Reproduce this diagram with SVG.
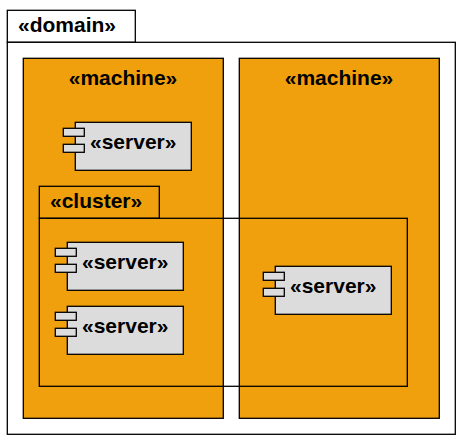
<svg xmlns="http://www.w3.org/2000/svg" width="462" height="446" viewBox="0 0 462 446">
<style>
.b{stroke:#000;stroke-width:1.3;fill:none}
.w{fill:#fff}
.m{fill:#f0a00c}
.s{fill:#dcdcdc}
text{font-family:"Liberation Sans",Arial,sans-serif;font-weight:bold;font-size:21px;fill:#000}
.mid{text-anchor:middle}
</style>
<rect width="462" height="446" fill="#fff"/>
<g id="domain">
<rect class="b w" x="7.3" y="10.3" width="128" height="32"/>
<rect class="b w" x="7.3" y="42.3" width="448" height="392"/>
<text x="18" y="32">«domain»</text>
</g>
<g id="machine1">
<rect class="b m" x="23.3" y="58.3" width="200" height="360"/>
<text class="mid" x="123" y="85">«machine»</text>
</g>
<g id="machine2">
<rect class="b m" x="239.3" y="58.3" width="200" height="360"/>
<text class="mid" x="339" y="85">«machine»</text>
</g>
<g id="cluster">
<rect class="b" x="39.3" y="186.3" width="120" height="32"/>
<rect class="b" x="39.3" y="218.3" width="368" height="168"/>
<text x="50" y="208">«cluster»</text>
</g>
<g id="server1">
<rect class="b s" x="75.3" y="122.3" width="116" height="48"/>
<rect class="b s" x="63.3" y="128.3" width="21" height="8"/>
<rect class="b s" x="63.3" y="144.3" width="21" height="8"/>
<text x="90" y="149">«server»</text>
</g>
<g id="server2">
<rect class="b s" x="67.3" y="242.3" width="116" height="48"/>
<rect class="b s" x="55.3" y="248.3" width="21" height="8"/>
<rect class="b s" x="55.3" y="264.3" width="21" height="8"/>
<text x="82" y="269">«server»</text>
</g>
<g id="server3">
<rect class="b s" x="67.3" y="306.3" width="116" height="48"/>
<rect class="b s" x="55.3" y="312.3" width="21" height="8"/>
<rect class="b s" x="55.3" y="328.3" width="21" height="8"/>
<text x="82" y="333">«server»</text>
</g>
<g id="server4">
<rect class="b s" x="275.3" y="266.3" width="116" height="48"/>
<rect class="b s" x="263.3" y="272.3" width="21" height="8"/>
<rect class="b s" x="263.3" y="288.3" width="21" height="8"/>
<text x="290" y="293">«server»</text>
</g>
<g id="connectors"/>
</svg>
